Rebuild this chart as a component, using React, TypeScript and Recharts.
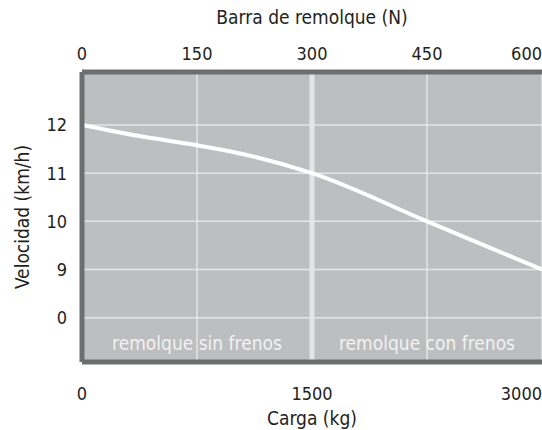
import React from "react"
import {
  LineChart,
  Line,
  XAxis,
  YAxis,
  CartesianGrid,
  ReferenceLine,
  ReferenceArea,
} from "recharts"

// tow bar force (N) on the top axis, load (kg) on the bottom, speed (km/h)
const towForce = [0, 75, 150, 225, 300, 450, 600]
const loadKg = [0, 375, 750, 1125, 1500, 2250, 3000]
const speed = [12, 11.77, 11.58, 11.34, 11, 10, 9]

const forceTicks = [0, 150, 300, 450, 600]
const loadTicks = [0, 1500, 3000]
const speedTicks = [8, 9, 10, 11, 12]
const speedTickLabels = ["0", "9", "10", "11", "12"]

const bandLabels = ["remolque sin frenos", "remolque con frenos"]

const data = towForce.map((n, i) => ({ n, kg: loadKg[i], v: speed[i] }))

const FONT = "'Liberation Sans Narrow', 'DejaVu Sans Condensed', 'Roboto Condensed', sans-serif"
const Y_MIN = 7.08
const Y_MAX = 13.1
const BORDER = "#6d6e70"
const LIGHT = "#e4e5e6"

function EdgeTick(props: any) {
  const { x, y, payload, max, dy } = props
  const anchor = payload.value === max ? "end" : "middle"
  return (
    <text x={x} y={y} dy={dy} textAnchor={anchor} fill="#231f20" fontSize={18} fontFamily={FONT}>
      {payload.value}
    </text>
  )
}

export default function App() {
  return (
    <div style={{ position: "absolute", left: 0, top: 0, fontFamily: FONT }}>
      <LineChart width={542} height={430} data={data} margin={{ top: 0, right: 0, bottom: 0, left: 0 }}>
        <CartesianGrid
          xAxisId="top"
          fill="#bdbec0"
          fillOpacity={1}
          stroke={LIGHT}
          strokeWidth={1.5}
          verticalValues={forceTicks}
          horizontalValues={speedTicks}
        />
        <XAxis
          xAxisId="top"
          orientation="top"
          dataKey="n"
          type="number"
          domain={[0, 600]}
          ticks={forceTicks}
          interval={0}
          height={72}
          tickSize={0}
          tickMargin={0}
          axisLine={false}
          tickLine={false}
          tick={<EdgeTick max={600} dy={-12} />}
          label={{ value: "Barra de remolque (N)", position: "insideTop", offset: 11, fontSize: 19, fill: "#231f20", fontFamily: FONT }}
        />
        <XAxis
          xAxisId="bottom"
          orientation="bottom"
          dataKey="kg"
          type="number"
          domain={[0, 3000]}
          ticks={loadTicks}
          interval={0}
          height={68}
          tickSize={0}
          tickMargin={0}
          axisLine={false}
          tickLine={false}
          tick={<EdgeTick max={3000} dy={38} />}
          label={{ value: "Carga (kg)", position: "insideBottom", offset: 5, fontSize: 19, fill: "#231f20", fontFamily: FONT }}
        />
        <YAxis
          type="number"
          domain={[Y_MIN, Y_MAX]}
          ticks={speedTicks}
          interval={0}
          width={82}
          tickSize={0}
          tickMargin={15}
          axisLine={false}
          tickLine={false}
          allowDataOverflow
          tick={{ fill: "#231f20", fontSize: 18, fontFamily: FONT }}
          tickFormatter={(v: number) => speedTickLabels[speedTicks.indexOf(v)]}
          label={{
            value: "Velocidad (km/h)",
            angle: -90,
            position: "insideLeft",
            offset: 22,
            fontSize: 19,
            fill: "#231f20",
            fontFamily: FONT,
            style: { textAnchor: "middle" },
          }}
        />
        <ReferenceArea
          xAxisId="top"
          x1={0}
          x2={300}
          y1={Y_MIN}
          y2={8}
          fill="none"
          stroke="none"
          label={{ value: bandLabels[0], position: "center", dy: 3, fill: "#f2f2f2", fontSize: 19, fontFamily: FONT }}
        />
        <ReferenceArea
          xAxisId="top"
          x1={300}
          x2={600}
          y1={Y_MIN}
          y2={8}
          fill="none"
          stroke="none"
          label={{ value: bandLabels[1], position: "center", dy: 3, fill: "#f2f2f2", fontSize: 19, fontFamily: FONT }}
        />
        <ReferenceLine xAxisId="top" x={300} stroke={LIGHT} strokeWidth={5} />
        <Line
          xAxisId="bottom"
          type="monotone"
          dataKey="v"
          stroke="none"
          dot={false}
          legendType="none"
          isAnimationActive={false}
        />
        <Line
          xAxisId="top"
          type="monotone"
          dataKey="v"
          stroke="#ffffff"
          strokeWidth={4}
          dot={false}
          isAnimationActive={false}
        />
        <ReferenceLine xAxisId="top" x={0} stroke={BORDER} strokeWidth={5} />
        <ReferenceLine xAxisId="top" y={Y_MAX} stroke={BORDER} strokeWidth={5} />
        <ReferenceLine xAxisId="top" y={Y_MIN} stroke={BORDER} strokeWidth={5} />
      </LineChart>
    </div>
  )
}
